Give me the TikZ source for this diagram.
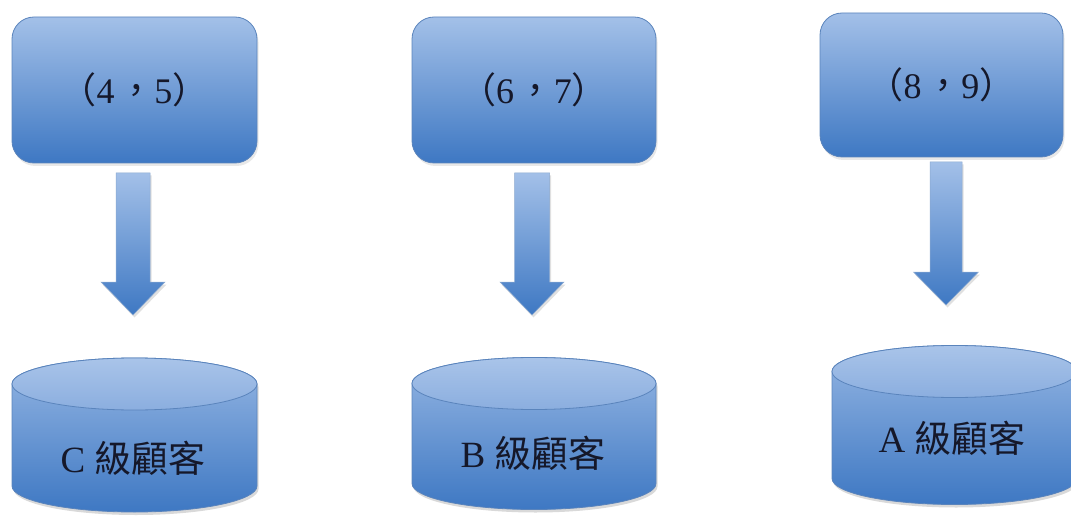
\documentclass[tikz,border=0pt]{standalone}
\usepackage{fontspec}
\setmainfont{Liberation Serif}
\newfontfamily\cjk{Noto Sans CJK TC}
\usetikzlibrary{shadows,calc}

\definecolor{boxtop}{HTML}{A3C0E8}
\definecolor{boxbot}{HTML}{3E78C3}
\definecolor{edge}{HTML}{5A84BC}
\definecolor{lidtop}{HTML}{A9C4E9}
\definecolor{lidbot}{HTML}{8BAEDF}
\definecolor{bodytop}{HTML}{95B6E3}
\definecolor{ink}{HTML}{15182A}

\tikzset{
  valbox/.style={rounded corners=22pt, draw=edge, line width=0.8pt,
    top color=boxtop, bottom color=boxbot,
    minimum width=#1, minimum height=146pt, inner sep=0pt,
    font=\fontsize{36}{40}\selectfont, text=ink,
    drop shadow={opacity=0.18, shadow xshift=1.5pt, shadow yshift=-3pt}},
  valbox/.default=245pt,
  blockarrow/.style={draw=edge!70, line width=0.5pt,
    top color=boxtop, bottom color=boxbot,
    preaction={fill=black, opacity=0.12,
      transform canvas={shift={(1.5pt,-2.5pt)}}}},
  cylbody/.style={draw=edge, line width=0.8pt,
    top color=bodytop, bottom color=boxbot,
    preaction={fill=black, opacity=0.15,
      transform canvas={shift={(1.5pt,-3pt)}}}},
  lidface/.style={draw=edge, line width=0.8pt,
    top color=lidtop, bottom color=lidbot},
  tier/.style={font=\fontsize{37}{42}\selectfont, text=ink, inner sep=0pt}
}

% block arrow pointing down: top-centre, tip, shaft half width, head half width
\newcommand\downblock[4]{%
  \path[blockarrow] let \p1=(#1), \p2=(#2) in
    (\x1-#3pt,\y1) -- (\x1+#3pt,\y1) -- (\x1+#3pt,\y2+33pt)
    -- (\x1+#4pt,\y2+33pt) -- (\x2,\y2) -- (\x1-#4pt,\y2+33pt)
    -- (\x1-#3pt,\y2+33pt) -- cycle;}

% drum: left x, right x, lid centre y, base centre y
\newcommand\drum[4]{%
  \pgfmathsetmacro\rx{(#2-#1)/2}%
  \path[cylbody] (#1,#3) -- (#1,#4)
    arc[start angle=180, end angle=360, x radius=\rx pt, y radius=26pt]
    -- (#2,#3)
    arc[start angle=0, end angle=180, x radius=\rx pt, y radius=26pt] -- cycle;
  \path[lidface] ({(#1+#2)/2},#3) ellipse[x radius=\rx pt, y radius=26pt];}

% a score pair with full-width brackets and comma
\newcommand\pairtext[2]{{\cjk （}#1\hspace{0.1em}{\cjk ，}#2{\cjk ）}}

\begin{document}
\begin{tikzpicture}[x=1pt,y=1pt]
  \useasboundingbox (0,0) rectangle (1071,515);
  \clip (0,0) rectangle (1071,515);

  % score ranges
  \node[valbox] (b1) at (134.5,425) {\pairtext{4}{5}};
  \node[valbox=244pt] (b2) at (534,425) {\pairtext{6}{7}};
  \node[valbox=243pt, minimum height=144pt] (b3) at (941.5,430) {\pairtext{8}{9}};

  % customer tiers
  \drum{12}{257}{131}{29}
  \drum{412}{656}{131.5}{31.5}
  \drum{832}{1077}{143.5}{36.5}
  \node[tier] (c1) at (133,57) {C {\cjk 級顧客}};
  \node[tier] (c2) at (533,62) {B {\cjk 級顧客}};
  \node[tier] (c3) at (952,77) {A {\cjk 級顧客}};

  % arrows from range to tier
  \coordinate (a1) at (133,342);  \coordinate (t1) at (133,200);
  \coordinate (a2) at (532,342);  \coordinate (t2) at (532,200);
  \coordinate (a3) at (946,353);  \coordinate (t3) at (946,210);
  \downblock{a1}{t1}{17}{32}
  \downblock{a2}{t2}{17.5}{32}
  \downblock{a3}{t3}{16}{32.5}
\end{tikzpicture}
\end{document}
